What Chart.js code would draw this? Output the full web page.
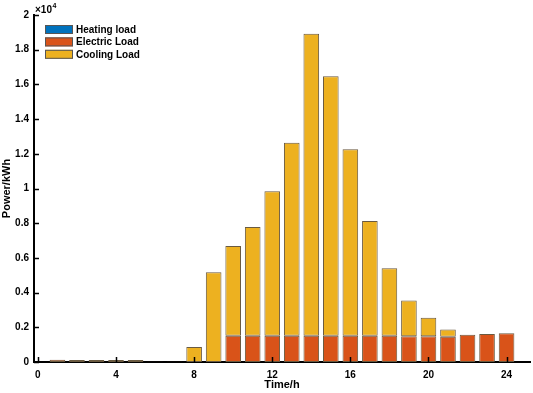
<!DOCTYPE html>
<html>
<head>
<meta charset="utf-8">
<script src="https://cdn.jsdelivr.net/npm/chart.js@4/dist/chart.umd.min.js"></script>
<style>
  html, body { margin: 0; padding: 0; background: #fff; }
  #wrap { width: 533px; height: 393px; position: relative; }
</style>
</head>
<body>
<div id="wrap"><canvas id="loadChart"></canvas></div>
<script>
const hours = [1, 2, 3, 4, 5, 6, 7, 8, 9, 10, 11, 12, 13, 14, 15, 16, 17, 18, 19, 20, 21, 22, 23, 24];
const heatingLoad = [0, 0, 0, 0, 0, 0, 0, 0, 0, 0, 0, 0, 0, 0, 0, 0, 0, 0, 0, 0, 0, 0, 0, 0];
const electricLoad = [130, 120, 120, 120, 120, 20, 20, 0, 0, 1520, 1520, 1520, 1520, 1520, 1520, 1520, 1520, 1520, 1480, 1480, 1460, 1570, 1610, 1650];
const coolingLoad = [0, 0, 0, 0, 0, 0, 0, 860, 5170, 5170, 6260, 8320, 11120, 17400, 14950, 10740, 6610, 3880, 2070, 1070, 410, 0, 0, 0];
const xTicks = [0, 4, 8, 12, 16, 20, 24];
const yTicks = [0, 2000, 4000, 6000, 8000, 10000, 12000, 14000, 16000, 18000, 20000];
const seriesNames = ["Heating load", "Electric Load", "Cooling Load"];

const FONT = "'Liberation Sans', Arial, sans-serif";
const colors = ["#0072BD", "#D95319", "#EDB120"];

const toPoints = (vals) => vals.map((v, i) => ({ x: hours[i], y: v }));

// matlab-ish axes: ticks pointing inward, drawn over the bars
const inwardTicks = {
  id: "inwardTicks",
  afterDatasetsDraw(chart) {
    const { ctx, chartArea, scales } = chart;
    ctx.save();
    ctx.strokeStyle = "#000";
    ctx.lineWidth = 1.5;
    xTicks.forEach((t) => {
      const px = Math.round(scales.x.getPixelForValue(t)) + 0.5;
      ctx.beginPath();
      ctx.moveTo(px, chartArea.bottom);
      ctx.lineTo(px, chartArea.bottom - 5);
      ctx.stroke();
    });
    yTicks.forEach((t) => {
      const py = Math.round(scales.y.getPixelForValue(t)) + 0.5;
      ctx.beginPath();
      ctx.moveTo(chartArea.left, py);
      ctx.lineTo(chartArea.left + 5, py);
      ctx.stroke();
    });
    ctx.restore();
  },
  afterDraw(chart) {
    const { ctx, chartArea } = chart;
    ctx.save();
    // exponent label
    ctx.fillStyle = "#000";
    ctx.textBaseline = "alphabetic";
    ctx.font = "bold 10px " + FONT;
    ctx.fillText("\u00d710", chartArea.left + 1, 13);
    const w = ctx.measureText("\u00d710").width;
    ctx.font = "bold 7px " + FONT;
    ctx.fillText("4", chartArea.left + 1 + w + 0.5, 8);

    // legend, no box
    ctx.font = "bold 10px " + FONT;
    ctx.textBaseline = "middle";
    chart.data.datasets.forEach((ds, i) => {
      const y = 25 + i * 12.4;
      ctx.fillStyle = ds.backgroundColor;
      ctx.fillRect(45, y, 28, 9);
      ctx.strokeStyle = "#555";
      ctx.lineWidth = 1;
      ctx.strokeRect(45.5, y + 0.5, 27, 8);
      ctx.fillStyle = "#000";
      ctx.fillText(ds.label, 76, y + 5);
    });
    ctx.restore();
  },
};

const ctx = document.getElementById("loadChart").getContext("2d");
new Chart(ctx, {
  type: "bar",
  data: {
    datasets: [
      { label: seriesNames[0], data: toPoints(heatingLoad), backgroundColor: colors[0] },
      { label: seriesNames[1], data: toPoints(electricLoad), backgroundColor: colors[1] },
      { label: seriesNames[2], data: toPoints(coolingLoad), backgroundColor: colors[2] },
    ].map((d) => ({ ...d, borderColor: "#6a5a40", borderWidth: 1, borderSkipped: false, categoryPercentage: 1, barPercentage: 0.8 })),
  },
  options: {
    responsive: true,
    maintainAspectRatio: false,
    animation: false,
    layout: { padding: { top: 15, right: 3, left: 0, bottom: 0 } },
    plugins: { legend: { display: false }, tooltip: { enabled: false } },
    scales: {
      x: {
        type: "linear",
        stacked: true,
        offset: false,
        min: -0.2,
        max: 25.2,
        afterBuildTicks: (s) => { s.ticks = xTicks.map((v) => ({ value: v })); },
        afterFit: (s) => { s.height = 31; },
        grid: { display: false, drawTicks: false, offset: false },
        border: { display: true, color: "#000", width: 2 },
        ticks: { color: "#000", padding: 7, maxRotation: 0, font: { family: FONT, size: 10, weight: "bold" } },
        title: { display: true, text: "Time/h", color: "#000", padding: { top: 0, bottom: 1 }, font: { family: FONT, size: 11, weight: "bold" } },
      },
      y: {
        stacked: true,
        min: 0,
        max: 20000,
        afterBuildTicks: (s) => { s.ticks = yTicks.map((v) => ({ value: v })); },
        afterFit: (s) => { s.width = 34; },
        grid: { display: false, drawTicks: false },
        border: { display: true, color: "#000", width: 2 },
        ticks: {
          color: "#000",
          padding: 5,
          font: { family: FONT, size: 10, weight: "bold" },
          callback: (v) => String(+(v / 10000).toFixed(1)),
        },
        title: { display: true, text: "Power/kWh", color: "#000", padding: { top: 0, bottom: 0 }, font: { family: FONT, size: 11, weight: "bold" } },
      },
    },
  },
  plugins: [inwardTicks],
});
</script>
</body>
</html>
